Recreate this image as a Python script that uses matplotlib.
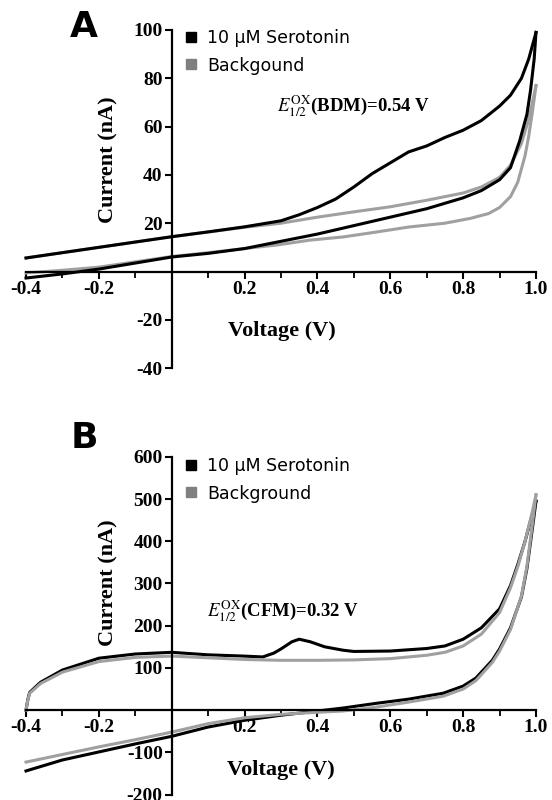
import matplotlib
matplotlib.use("Agg")
import matplotlib.pyplot as plt
from matplotlib.lines import Line2D

# ---------------- Panel A data (Current nA vs Voltage V) ----------------
a_ser_fwd_v = [-0.4, -0.3, -0.2, -0.1, 0.0, 0.1, 0.2, 0.3, 0.35, 0.4, 0.45, 0.5, 0.55, 0.6,
               0.65, 0.7, 0.75, 0.8, 0.85, 0.9, 0.93, 0.96, 0.98, 1.0]
a_ser_fwd_i = [5.6, 7.8, 10.0, 12.2, 14.4, 16.4, 18.5, 21.0, 23.5, 26.5, 30.0, 35.0, 40.5, 45.0,
               49.5, 52.0, 55.5, 58.5, 62.5, 68.5, 73.0, 80.0, 88.0, 99.0]
a_ser_rev_v = [1.0, 0.995, 0.985, 0.975, 0.955, 0.93, 0.9, 0.85, 0.8, 0.7, 0.6, 0.5, 0.4, 0.3,
               0.2, 0.1, 0.0, -0.1, -0.2, -0.3, -0.4]
a_ser_rev_i = [99.0, 88.0, 75.0, 65.0, 54.0, 43.0, 38.0, 33.5, 30.5, 26.0, 22.5, 19.0, 15.5, 12.5,
               9.5, 7.5, 6.0, 3.5, 1.0, -1.0, -2.7]
a_bg_fwd_v = [-0.4, -0.2, 0.0, 0.2, 0.3, 0.4, 0.5, 0.6, 0.7, 0.8, 0.85, 0.9, 0.93, 0.96, 0.98, 1.0]
a_bg_fwd_i = [5.6, 10.0, 14.4, 18.3, 20.0, 22.5, 24.7, 26.8, 29.5, 32.5, 35.0, 39.0, 44.0, 53.0, 63.0, 77.0]
a_bg_rev_v = [1.0, 0.99, 0.98, 0.97, 0.95, 0.93, 0.9, 0.87, 0.82, 0.75, 0.65, 0.56, 0.47, 0.38,
              0.29, 0.2, 0.1, 0.0, -0.1, -0.2, -0.3, -0.4]
a_bg_rev_i = [77.0, 66.0, 56.0, 48.0, 37.0, 31.0, 26.5, 24.0, 22.0, 20.0, 18.4, 16.3, 14.3, 13.0,
              11.0, 9.5, 7.8, 6.2, 4.0, 1.8, 0.5, -0.6]

# ---------------- Panel B data ----------------
b_ser_fwd_v = [-0.4, -0.395, -0.39, -0.36, -0.3, -0.2, -0.1, 0.0, 0.1, 0.2, 0.25, 0.28, 0.3, 0.33,
               0.35, 0.38, 0.42, 0.47, 0.5, 0.6, 0.7, 0.75, 0.8, 0.85, 0.9, 0.93, 0.95, 0.97, 0.99, 1.0]
b_ser_fwd_i = [0, 25, 42, 66, 95, 123, 133, 137, 131, 128, 126, 135, 145, 162,
               168, 162, 150, 142, 139, 140, 146, 152, 168, 195, 240, 295, 345, 400, 465, 495]
b_ser_rev_v = [1.0, 0.99, 0.975, 0.96, 0.93, 0.9, 0.88, 0.835, 0.8, 0.745, 0.65, 0.56, 0.47, 0.4,
               0.3, 0.2, 0.1, 0.0, -0.1, -0.2, -0.3, -0.4]
b_ser_rev_i = [495, 430, 335, 268, 195, 145, 118, 76, 57, 40, 26, 16, 5, -2,
               -12, -24, -40, -62, -80, -99, -118, -144]
b_bg_fwd_v = [-0.4, -0.395, -0.39, -0.36, -0.3, -0.2, -0.1, 0.0, 0.1, 0.2, 0.3, 0.4, 0.5, 0.6,
              0.7, 0.75, 0.8, 0.85, 0.9, 0.93, 0.95, 0.97, 0.99, 1.0]
b_bg_fwd_i = [0, 24, 40, 63, 90, 115, 125, 128, 124, 120, 118, 118, 119, 122,
              130, 137, 152, 180, 231, 290, 340, 400, 470, 510]
b_bg_rev_v = [1.0, 0.99, 0.975, 0.96, 0.93, 0.9, 0.88, 0.835, 0.8, 0.745, 0.65, 0.56, 0.47, 0.4,
              0.3, 0.2, 0.1, 0.0, -0.1, -0.2, -0.3, -0.4]
b_bg_rev_i = [510, 440, 340, 270, 191, 140, 113, 70, 50, 33, 19, 7, -2, -5,
              -10, -18, -32, -52, -70, -87, -105, -123]

x_ticks = [-0.4, -0.2, 0.2, 0.4, 0.6, 0.8, 1.0]
x_tick_labels = ["-0.4", "-0.2", "0.2", "0.4", "0.6", "0.8", "1.0"]
x_minor = [-0.3, -0.1, 0.1, 0.3, 0.5, 0.7, 0.9]
a_y_ticks = [-40, -20, 20, 40, 60, 80, 100]
b_y_ticks = [-200, -100, 100, 200, 300, 400, 500, 600]

legend_a = ["10 \u03bcM Serotonin", "Backgound"]
legend_b = ["10 \u03bcM Serotonin", "Background"]

BLACK = "#000000"
GRAY = "#a0a0a0"
LEG_GRAY = "#7f7f7f"

plt.rcParams["mathtext.fontset"] = "stix"
W, H = 552, 800
fig = plt.figure(figsize=(W / 100, H / 100), dpi=100)

SERIF = "Liberation Serif"


def px(x, y):
    return x / W, 1 - y / H


def setup(ax, yticks, ylim):
    ax.set_xlim(-0.4, 1.0)
    ax.set_ylim(*ylim)
    for s in ["top", "right"]:
        ax.spines[s].set_visible(False)
    ax.spines["left"].set_position(("data", 0))
    ax.spines["bottom"].set_position(("data", 0))
    ax.spines["left"].set_linewidth(1.6)
    ax.spines["bottom"].set_linewidth(1.6)
    ax.set_xticks(x_ticks)
    ax.set_xticklabels(x_tick_labels)
    ax.set_xticks(x_minor, minor=True)
    ax.set_yticks(yticks)
    ax.set_yticklabels([str(t) for t in yticks])
    ax.tick_params(axis="both", which="major", direction="out", length=5, width=1.5,
                   labelsize=14, pad=1.5)
    ax.tick_params(axis="x", which="minor", direction="out", length=4, width=1.3)
    for lab in ax.get_xticklabels() + ax.get_yticklabels():
        lab.set_fontfamily(SERIF)
        lab.set_fontweight("bold")
    ax.patch.set_alpha(0)


def draw(ax, series):
    for v, i, c in series:
        ax.plot(v, i, color=c, lw=2.2, clip_on=False, solid_joinstyle="round")


# Panel A
axA = fig.add_axes([26 / W, 1 - 368.1 / H, 510 / W, 338.1 / H])
setup(axA, a_y_ticks, (-40, 100))
draw(axA, [(a_bg_fwd_v, a_bg_fwd_i, GRAY), (a_bg_rev_v, a_bg_rev_i, GRAY),
           (a_ser_fwd_v, a_ser_fwd_i, BLACK), (a_ser_rev_v, a_ser_rev_i, BLACK)])

# Panel B
axB = fig.add_axes([26 / W, 1 - 794.6 / H, 510 / W, 337.8 / H])
setup(axB, b_y_ticks, (-200, 600))
draw(axB, [(b_ser_fwd_v, b_ser_fwd_i, BLACK), (b_ser_rev_v, b_ser_rev_i, BLACK),
           (b_bg_fwd_v, b_bg_fwd_i, GRAY), (b_bg_rev_v, b_bg_rev_i, GRAY)])


def legend(labels, y0):
    handles = [Line2D([], [], marker="s", ls="none", color=BLACK, markersize=6.5, label=labels[0]),
               Line2D([], [], marker="s", ls="none", color=LEG_GRAY, markersize=6.5, label=labels[1])]
    fig.legend(handles=handles, loc="upper left", bbox_to_anchor=px(186, y0),
               frameon=False, prop={"family": "DejaVu Sans", "size": 12.5},
               handlelength=0.6, handletextpad=0.6, labelspacing=0.55,
               borderpad=0, borderaxespad=0)


legend(legend_a, 29)
legend(legend_b, 457)

# Panel letters
fig.text(*px(84, 27), "A", fontsize=26, fontweight="bold", family="DejaVu Sans",
         ha="center", va="center")
fig.text(*px(84, 438), "B", fontsize=26, fontweight="bold", family="DejaVu Sans",
         ha="center", va="center")

# Axis labels
lab_kw = dict(fontsize=16, fontweight="bold", family=SERIF, ha="center", va="center")
fig.text(*px(108, 160), "Current (nA)", rotation=90, **lab_kw)
fig.text(*px(282, 331), "Voltage (V)", **lab_kw)
fig.text(*px(108, 583), "Current (nA)", rotation=90, **lab_kw)
fig.text(*px(281, 770), "Voltage (V)", **lab_kw)

# Annotations
ann_kw = dict(fontsize=13.5, fontweight="bold", family=SERIF, ha="left", va="center")
fig.text(*px(277, 106), r"$E_{\mathit{1/2}}^{\mathrm{OX}}$(BDM)=0.54 V", **ann_kw)
fig.text(*px(207, 611), r"$E_{\mathit{1/2}}^{\mathrm{OX}}$(CFM)=0.32 V", **ann_kw)

fig.savefig("out.png", dpi=100)
